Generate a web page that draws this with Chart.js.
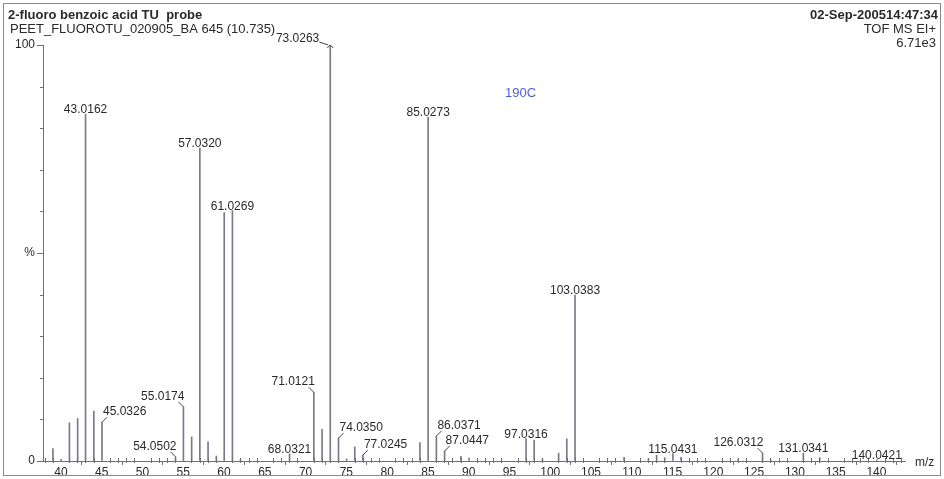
<!DOCTYPE html>
<html>
<head>
<meta charset="utf-8">
<title>2-fluoro benzoic acid TU probe</title>
<script src="https://cdn.jsdelivr.net/npm/chart.js@4.4.1/dist/chart.umd.min.js"></script>
<style>
  html, body { margin: 0; padding: 0; background: #fff; }
  #spectrum { display: block; }
</style>
</head>
<body>
<canvas id="spectrum" width="944" height="479"></canvas>
<script>
// peak list (m/z, relative intensity %)
const mzValues = [
  39.02, 40.03, 41.04, 42.05, 43.0162, 44.03, 45.0326,
  54.0502, 55.0174, 56.03, 57.032, 58.04, 59.05, 60.02, 61.0269, 62.02,
  68.0321, 71.0121, 72.02, 73.0263, 74.035, 75.03, 76.03, 77.0245,
  84.02, 85.0273, 86.0371, 87.0447, 89.04, 90.04,
  97.0316, 98.03, 99.04, 101.03, 102.03, 103.0383,
  109.05, 112.04, 113.04, 114.04, 115.0431, 116.04,
  123.04, 126.0312, 127.04, 131.0341, 133.04, 140.0421
];
const intensities = [
  3.0, 0.4, 9.2, 10.2, 83.4, 12.0, 9.3,
  1.0, 13.0, 5.8, 75.2, 4.6, 1.2, 59.7, 60.2, 0.4,
  1.7, 16.5, 7.6, 100, 5.5, 0.5, 3.4, 1.4,
  4.4, 82.7, 6.0, 2.4, 1.1, 0.7,
  5.4, 5.0, 0.5, 1.9, 5.3, 39.9,
  0.9, 0.6, 1.4, 0.8, 1.8, 0.9,
  0.4, 1.9, 0.3, 1.9, 0.8, 0.3
];
const labelledPeaks = [
  43.0162, 45.0326, 54.0502, 55.0174, 57.032, 61.0269, 68.0321, 71.0121,
  73.0263, 74.035, 77.0245, 85.0273, 86.0371, 87.0447, 97.0316, 103.0383,
  115.0431, 126.0312, 131.0341, 140.0421
];
const xMin = 37.8;
const xMax = 143.5;
const yTickLabels = { 0: "0", 50: "%", 100: "100" };

const titleText = "2-fluoro benzoic acid TU  probe";
const sampleText = "PEET_FLUOROTU_020905_BA 645 (10.735)";
const dateText = "02-Sep-200514:47:34";
const modeText = "TOF MS EI+";
const scaleText = "6.71e3";
const noteText = "190C";
const xAxisText = "m/z";

const FONT = "'Liberation Sans', Arial, sans-serif";
const INK = "#2a2a2a";
const AXIS = "#707070";
const PEAK = "#7b788c";

// where each label sits relative to its peak: c = centred, l = left + leader, r = right + leader
const placement = {
  45.0326: "r", 54.0502: "l", 55.0174: "l", 71.0121: "l", 73.0263: "arrow",
  74.035: "r", 77.0245: "r", 86.0371: "r", 87.0447: "r", 126.0312: "l"
};

const decorations = {
  id: "decorations",
  afterDraw(chart) {
    const ctx = chart.ctx;
    const x = chart.scales.x;
    const y = chart.scales.y;
    const area = chart.chartArea;
    ctx.save();

    // outer frame
    ctx.strokeStyle = "#8a8a8a";
    ctx.lineWidth = 1;
    ctx.strokeRect(3.5, 3.5, 937, 472);

    // header
    ctx.fillStyle = INK;
    ctx.textBaseline = "alphabetic";
    ctx.textAlign = "left";
    ctx.font = "bold 13px " + FONT;
    ctx.fillText(titleText, 8, 19);
    ctx.font = "13px " + FONT;
    ctx.fillText(sampleText, 10, 33);
    ctx.textAlign = "right";
    ctx.font = "bold 13px " + FONT;
    ctx.fillText(dateText, 938, 19);
    ctx.font = "13px " + FONT;
    ctx.fillText(modeText, 936, 33);
    ctx.fillText(scaleText, 936, 47);

    ctx.textAlign = "left";
    ctx.fillStyle = "#5060d0";
    ctx.fillText(noteText, 505, 97);

    ctx.fillStyle = INK;
    ctx.font = "12px " + FONT;
    ctx.fillText(xAxisText, area.right + 10, area.bottom + 5);

    // minor ticks
    ctx.strokeStyle = AXIS;
    ctx.beginPath();
    for (let v = Math.ceil(xMin); v <= Math.floor(xMax); v++) {
      if (v % 5 === 0) continue;
      const px = Math.round(x.getPixelForValue(v)) + 0.5;
      ctx.moveTo(px, area.bottom - 3);
      ctx.lineTo(px, area.bottom + 2);
    }
    for (let v = 10; v < 100; v += 10) {
      if (v === 50) continue;
      const py = Math.round(y.getPixelForValue(v)) + 0.5;
      ctx.moveTo(area.left - 3, py);
      ctx.lineTo(area.left, py);
    }
    ctx.stroke();

    // peak labels
    ctx.font = "12px " + FONT;
    ctx.fillStyle = INK;
    ctx.strokeStyle = "#444";
    labelledPeaks.forEach((mz) => {
      const i = mzValues.indexOf(mz);
      const px = x.getPixelForValue(mz);
      const py = y.getPixelForValue(intensities[i]);
      const text = mz.toFixed(4);
      const mode = placement[mz] || "c";
      ctx.beginPath();
      if (mode === "c") {
        ctx.textAlign = "center";
        ctx.fillText(text, px, py - 1);
      } else if (mode === "l") {
        ctx.textAlign = "right";
        ctx.fillText(text, px + 1, py - 7);
        ctx.moveTo(px - 5, py - 5);
        ctx.lineTo(px, py);
      } else if (mode === "r") {
        ctx.textAlign = "left";
        ctx.fillText(text, px + 1, py - 7);
        ctx.moveTo(px + 5, py - 5);
        ctx.lineTo(px, py);
      } else {
        ctx.textAlign = "right";
        ctx.fillText(text, px - 11, py - 3);
        ctx.moveTo(px - 11, py - 3);
        ctx.lineTo(px - 2, py);
        ctx.moveTo(px - 3, py + 3);
        ctx.lineTo(px, py);
        ctx.lineTo(px + 3, py + 3);
      }
      ctx.stroke();
    });

    ctx.restore();
  }
};

const points = mzValues.map((mz, i) => ({ x: mz, y: intensities[i] }));

new Chart(document.getElementById("spectrum"), {
  type: "bar",
  data: {
    datasets: [
      {
        data: points,
        backgroundColor: PEAK,
        borderWidth: 0,
        barThickness: 1,
      },
    ],
  },
  options: {
    responsive: false,
    animation: false,
    layout: { padding: { top: 45, right: 39, left: 0, bottom: 0 } },
    plugins: { legend: { display: false }, tooltip: { enabled: false } },
    scales: {
      x: {
        type: "linear",
        min: xMin,
        max: xMax,
        offset: false,
        afterFit: (s) => { s.height = 18; },
        grid: { drawOnChartArea: false, tickLength: 4, color: AXIS },
        border: { color: AXIS },
        ticks: {
          stepSize: 5,
          includeBounds: false,
          autoSkip: false,
          maxRotation: 0,
          padding: 0,
          color: INK,
          font: { family: FONT, size: 12 },
        },
      },
      y: {
        min: 0,
        max: 100,
        afterFit: (s) => { s.width = 43; },
        grid: { drawOnChartArea: false, tickLength: 6, color: AXIS },
        border: { color: AXIS },
        ticks: {
          stepSize: 50,
          padding: 2,
          color: INK,
          font: { family: FONT, size: 12 },
          callback: (v) => yTickLabels[v],
        },
      },
    },
  },
  plugins: [decorations],
});
</script>
</body>
</html>
